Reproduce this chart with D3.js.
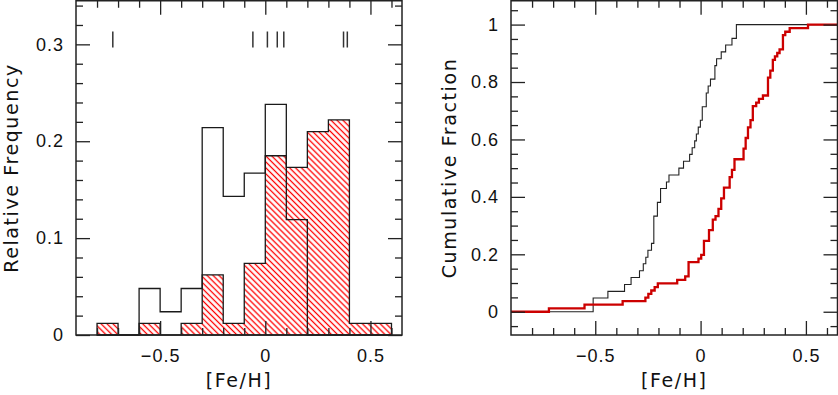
<!DOCTYPE html>
<meta charset="utf-8">
<style>
body { margin: 0; background: #fff; }
svg { display: block; font-family: "DejaVu Sans", sans-serif; }
.tick text { font-size: 18px; fill: #111; letter-spacing: 1px; }
.tick line { stroke: #222; stroke-width: 1.3; }
.frame { fill: none; stroke: #222; stroke-width: 1.5; }
.title { font-size: 19px; fill: #111; letter-spacing: 1.6px; }
</style>
<body>
<svg width="838" height="395"></svg>
</body>
<script src="https://d3js.org/d3.v7.min.js"></script>
<script>

// histogram bins (edges) and relative frequencies
var binEdges = [-0.8, -0.7, -0.6, -0.5, -0.4, -0.3, -0.2, -0.1, 0, 0.1, 0.2, 0.3, 0.4, 0.5, 0.6];
var freqOpen = [0, 0, 0.048, 0.024, 0.048, 0.214, 0.143, 0.167, 0.238, 0.119, 0, 0, 0, 0];
var freqHatched = [0.012, 0, 0.012, 0, 0.012, 0.062, 0.012, 0.074, 0.185, 0.173, 0.210, 0.222, 0.012, 0.012];

// short marks along the top of the left panel
var rugFeH = [-0.725, -0.059, 0.010, 0.057, 0.088, 0.372, 0.390];

// cumulative fraction: [Fe/H] at each step and fraction after the step
var cdfOpenX = [-0.51, -0.44, -0.361, -0.33, -0.29, -0.272, -0.26, -0.25, -0.233, -0.222, -0.205, -0.19,
  -0.162, -0.15, -0.103, -0.081, -0.052, -0.04, -0.028, -0.02, -0.011, -0.001, 0.008, 0.027,
  0.036, 0.047, 0.068, 0.076, 0.098, 0.119, 0.149, 0.17];
var cdfOpenY = [0.048, 0.071, 0.095, 0.119, 0.143, 0.167, 0.190, 0.214, 0.238, 0.333, 0.381, 0.429,
  0.452, 0.476, 0.5, 0.524, 0.548, 0.571, 0.595, 0.619, 0.643, 0.667, 0.714, 0.762,
  0.786, 0.810, 0.857, 0.881, 0.905, 0.929, 0.952, 1.0];

var cdfRedX = [-0.72, -0.551, -0.37, -0.262, -0.248, -0.234, -0.218, -0.203, -0.111, -0.073, -0.057,
  -0.01, 0.003, 0.016, 0.04, 0.058, 0.071, 0.085, 0.098, 0.111, 0.138, 0.149, 0.161, 0.204,
  0.214, 0.225, 0.237, 0.248, 0.264, 0.277, 0.296, 0.32, 0.331, 0.343, 0.353, 0.364, 0.375,
  0.391, 0.402, 0.423, 0.51];
var cdfRedY = [0.012, 0.025, 0.037, 0.049, 0.062, 0.074, 0.086, 0.099, 0.111, 0.123, 0.173,
  0.185, 0.198, 0.247, 0.284, 0.321, 0.333, 0.358, 0.395, 0.432, 0.469, 0.494, 0.531, 0.568,
  0.605, 0.642, 0.667, 0.716, 0.728, 0.741, 0.753, 0.815, 0.840, 0.877, 0.889, 0.901, 0.914,
  0.963, 0.975, 0.988, 1.0];

// ticks
var xMajor = [-0.5, 0, 0.5];
var xMinor = [-0.8, -0.7, -0.6, -0.4, -0.3, -0.2, -0.1, 0.1, 0.2, 0.3, 0.4, 0.6];
var yMajorL = [0, 0.1, 0.2, 0.3];
var yMinorL = [0.02, 0.04, 0.06, 0.08, 0.12, 0.14, 0.16, 0.18, 0.22, 0.24, 0.26, 0.28, 0.32, 0.34];
var yMajorR = [0, 0.2, 0.4, 0.6, 0.8, 1];
var yMinorR = [-0.05, 0.05, 0.1, 0.15, 0.25, 0.3, 0.35, 0.45, 0.5, 0.55, 0.65, 0.7, 0.75, 0.85, 0.9, 0.95, 1.05];

var svg = d3.select("svg");
var fmt = d => d3.format("~g")(d);

var xL = d3.scaleLinear().domain([-0.9, 0.65]).range([76, 402]);
var yL = d3.scaleLinear().domain([0, 0.345]).range([335, 0.75]);
var xR = d3.scaleLinear().domain([-0.9, 0.65]).range([511, 837.5]);
var yR = d3.scaleLinear().domain([-0.081, 1.083]).range([335, 0.75]);

// hatch pattern for the second histogram
svg.append("defs").append("pattern")
    .attr("id", "hatch")
    .attr("patternUnits", "userSpaceOnUse")
    .attr("width", 4.2)
    .attr("height", 4.2)
    .attr("patternTransform", "rotate(-45)")
  .append("line")
    .attr("x1", 2.1).attr("y1", 0)
    .attr("x2", 2.1).attr("y2", 4.2)
    .attr("stroke", "#ff0000")
    .attr("stroke-width", 1.3);

function histPoints(freq) {
  var last = binEdges[binEdges.length - 1];
  var pts = [[binEdges[0], 0]];
  freq.forEach((f, i) => pts.push([binEdges[i], f]));
  pts.push([last, freq[freq.length - 1]]);
  pts.push([last, 0]);
  return pts;
}

function cdfPoints(xs, ys) {
  var pts = [[-0.9, 0]];
  xs.forEach((v, i) => pts.push([v, ys[i]]));
  pts.push([0.65, ys[ys.length - 1]]);
  return pts;
}

var histLine = d3.line()
    .x(d => xL(d[0]))
    .y(d => yL(d[1]))
    .curve(d3.curveStepAfter);

var cdfLine = d3.line()
    .x(d => xR(d[0]))
    .y(d => yR(d[1]))
    .curve(d3.curveStepAfter);

// left panel: histograms
svg.append("path")
    .attr("d", histLine(histPoints(freqHatched)) + "Z")
    .attr("fill", "url(#hatch)")
    .attr("stroke", "#1a1a1a")
    .attr("stroke-width", 1.3);

svg.append("path")
    .attr("d", histLine(histPoints(freqOpen)))
    .attr("fill", "none")
    .attr("stroke", "#1a1a1a")
    .attr("stroke-width", 1.3);

svg.append("g")
  .selectAll("line")
  .data(rugFeH)
  .enter().append("line")
    .attr("x1", d => xL(d)).attr("x2", d => xL(d))
    .attr("y1", yL(0.305) - 8).attr("y2", yL(0.305) + 8)
    .attr("stroke", "#333")
    .attr("stroke-width", 1.5);

// right panel: cumulative distributions
svg.append("path")
    .attr("d", cdfLine(cdfPoints(cdfOpenX, cdfOpenY)))
    .attr("fill", "none")
    .attr("stroke", "#222")
    .attr("stroke-width", 1.1);

svg.append("path")
    .attr("d", cdfLine(cdfPoints(cdfRedX, cdfRedY)))
    .attr("fill", "none")
    .attr("stroke", "#cc0000")
    .attr("stroke-width", 2.3);

function frame(x, y, yMajor, yMinor) {
  var g = svg.append("g");
  var xa = x.range(), ya = y.range();
  var put = (axis, tx, ty) => g.append("g")
      .attr("transform", `translate(${tx},${ty})`)
      .call(axis);

  put(d3.axisBottom(x).tickValues(xMinor).tickSize(-7).tickFormat(() => ""), 0, ya[0]);
  put(d3.axisBottom(x).tickValues(xMajor).tickSize(-14).tickPadding(14).tickFormat(fmt), 0, ya[0]);
  put(d3.axisTop(x).tickValues(xMinor).tickSize(-7).tickFormat(() => ""), 0, ya[1]);
  put(d3.axisTop(x).tickValues(xMajor).tickSize(-14).tickFormat(() => ""), 0, ya[1]);

  put(d3.axisLeft(y).tickValues(yMinor).tickSize(-7).tickFormat(() => ""), xa[0], 0);
  put(d3.axisLeft(y).tickValues(yMajor).tickSize(-14).tickPadding(12).tickFormat(fmt), xa[0], 0);
  put(d3.axisRight(y).tickValues(yMinor).tickSize(-7).tickFormat(() => ""), xa[1], 0);
  put(d3.axisRight(y).tickValues(yMajor).tickSize(-14).tickFormat(() => ""), xa[1], 0);

  g.selectAll(".domain").remove();
  g.selectAll(".tick text").attr("font-family", null).attr("font-size", null);

  g.append("rect")
      .attr("class", "frame")
      .attr("x", xa[0]).attr("y", ya[1])
      .attr("width", xa[1] - xa[0])
      .attr("height", ya[0] - ya[1]);

  g.append("text")
      .attr("class", "title")
      .attr("x", (xa[0] + xa[1]) / 2)
      .attr("y", 387)
      .attr("text-anchor", "middle")
      .text("[Fe/H]");
  return g;
}

frame(xL, yL, yMajorL, yMinorL);
frame(xR, yR, yMajorR, yMinorR);

svg.append("text")
    .attr("class", "title")
    .attr("transform", "translate(18,168) rotate(-90)")
    .attr("text-anchor", "middle")
    .text("Relative Frequency");

svg.append("text")
    .attr("class", "title")
    .attr("transform", "translate(456,168) rotate(-90)")
    .attr("text-anchor", "middle")
    .text("Cumulative Fraction");

</script>
